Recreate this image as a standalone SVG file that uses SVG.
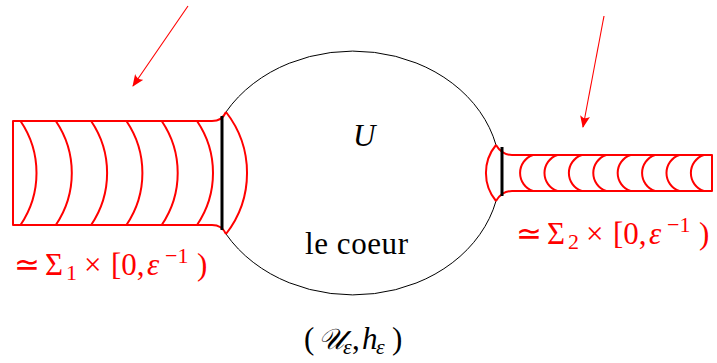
<svg xmlns="http://www.w3.org/2000/svg" width="717" height="363" viewBox="0 0 717 363">
<defs>
<style>
.red{fill:none;stroke:#ff0000;stroke-width:2;stroke-linejoin:round}
.blk{fill:none;stroke:#000;stroke-width:1}
.bar{fill:none;stroke:#000;stroke-width:3}
.arr{fill:none;stroke:#ff0000;stroke-width:1.1}
text{font-family:"Liberation Serif",serif;font-size:31px}
.rt{fill:#ff0000}
.it{font-style:italic}
.s{font-size:22px}
</style>
<marker id="ah" viewBox="0 0 12 10" refX="11" refY="5" markerWidth="12" markerHeight="10" markerUnits="userSpaceOnUse" orient="auto">
<path d="M0,0 Q4,5 0,10 L12,5 Z" fill="#ff0000"/>
</marker>
</defs>
<rect width="717" height="363" fill="#fff"/>
<g id="heart">
<path class="blk" d="M226,112 A147,122.5 0 0 1 496,145"/>
<path class="blk" d="M496,201 A147,122.5 0 0 1 226,234"/>
</g>
<g id="tube1">
<path class="red" d="M226,112 Q222,121 212,121 H13 V225 H212 Q222,225 226,234"/>
<path class="red" d="M226,112 A99,99 0 0 1 226,234"/>
<path class="red" d="M20.5,121 A92.5,92.5 0 0 1 20.5,225 M55.8,121 A92.5,92.5 0 0 1 55.8,225 M91.1,121 A92.5,92.5 0 0 1 91.1,225 M126.4,121 A92.5,92.5 0 0 1 126.4,225 M161.7,121 A92.5,92.5 0 0 1 161.7,225 M197,121 A92.5,92.5 0 0 1 197,225"/>
<line class="bar" x1="222" y1="116" x2="222" y2="230"/>
</g>
<g id="tube2">
<path class="red" d="M496,145 Q502,155 512,155 H712 V191 H512 Q502,191 496,201"/>
<path class="red" d="M496,145 A44,44 0 0 0 496,201"/>
<path class="red" d="M533,155 A19,19 0 0 0 533,191 M557.4,155 A19,19 0 0 0 557.4,191 M581.8,155 A19,19 0 0 0 581.8,191 M606.2,155 A19,19 0 0 0 606.2,191 M630.6,155 A19,19 0 0 0 630.6,191 M655,155 A19,19 0 0 0 655,191 M679.4,155 A19,19 0 0 0 679.4,191 M703.8,155 A19,19 0 0 0 703.8,191"/>
<line class="bar" x1="502" y1="147" x2="502" y2="196"/>
</g>
<g id="connectors">
<line class="arr" x1="188" y1="6" x2="133" y2="86" marker-end="url(#ah)"/>
<line class="arr" x1="604" y1="16" x2="583" y2="127" marker-end="url(#ah)"/>
</g>
<g id="labels">
<text class="it" x="353" y="146">U</text>
<text x="305" y="254" textLength="103" lengthAdjust="spacing">le coeur</text>
<text class="rt" y="275"><tspan x="14">≃</tspan><tspan x="45">Σ</tspan><tspan class="s" x="66" dy="5">1</tspan><tspan x="84" dy="-5">×</tspan><tspan x="111">[0,</tspan><tspan class="it" x="147">ε</tspan><tspan class="s" x="165" dy="-12">−1</tspan><tspan x="197" dy="12">)</tspan></text>
<text class="rt" y="244"><tspan x="516">≃</tspan><tspan x="547">Σ</tspan><tspan class="s" x="568" dy="5">2</tspan><tspan x="586" dy="-5">×</tspan><tspan x="613">[0,</tspan><tspan class="it" x="649">ε</tspan><tspan class="s" x="667" dy="-12">−1</tspan><tspan x="699" dy="12">)</tspan></text>
<text y="349"><tspan x="304">(</tspan><tspan class="it" x="318" font-size="29">𝒰</tspan><tspan class="s it" x="343" dy="5">ε</tspan><tspan x="352" dy="-5">,</tspan><tspan class="it" x="362">h</tspan><tspan class="s it" x="376" dy="5">ε</tspan><tspan x="392" dy="-5">)</tspan></text>
</g>
</svg>
